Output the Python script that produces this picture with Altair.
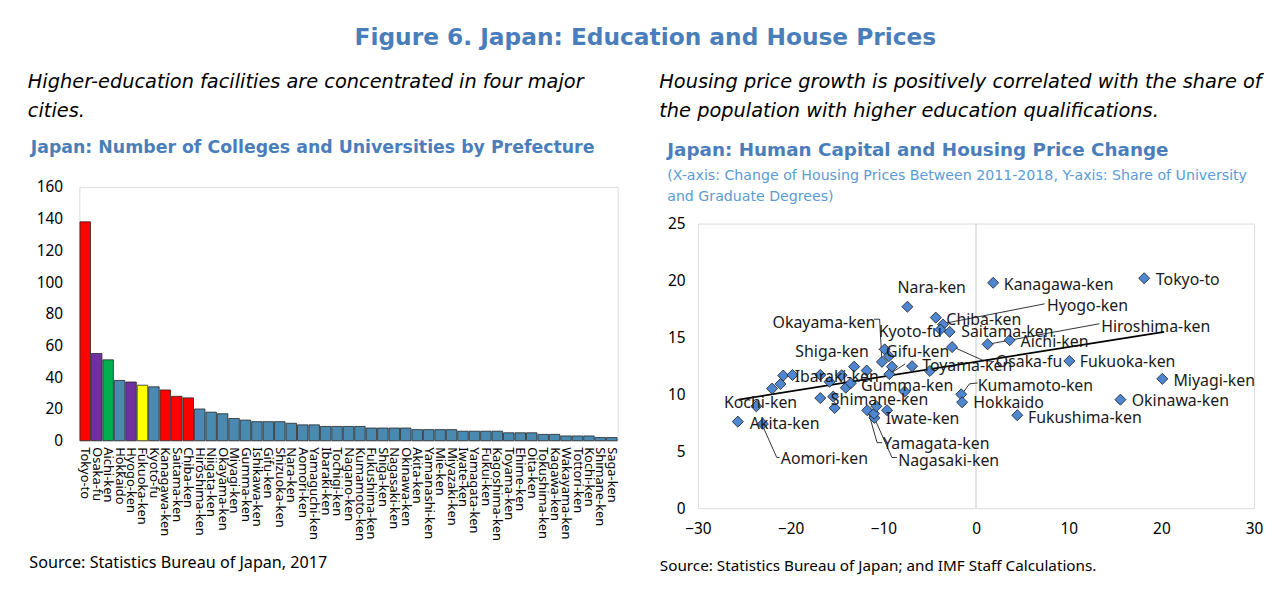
import altair as alt
import pandas as pd

# ---------------- Left panel data ----------------
prefectures = [
    "Tokyo-to", "Osaka-fu", "Aichi-ken", "Hokkaido", "Hyogo-ken", "Fukuoka-ken",
    "Kyoto-fu", "Kanagawa-ken", "Saitama-ken", "Chiba-ken", "Hiroshima-ken",
    "Niigata-ken", "Okayama-ken", "Miyagi-ken", "Gumma-ken", "Ishikawa-ken",
    "Gifu-ken", "Shizuoka-ken", "Nara-ken", "Aomori-ken", "Yamaguchi-ken",
    "Ibaraki-ken", "Tochigi-ken", "Nagano-ken", "Kumamoto-ken", "Fukushima-ken",
    "Shiga-ken", "Nagasaki-ken", "Okinawa-ken", "Akita-ken", "Yamanashi-ken",
    "Mie-ken", "Miyazaki-ken", "Iwate-ken", "Yamagata-ken", "Fukui-ken",
    "Kagoshima-ken", "Toyama-ken", "Ehime-ken", "Oita-ken", "Tokushima-ken",
    "Kagawa-ken", "Wakayama-ken", "Tottori-ken", "Kochi-ken", "Shimane-ken",
    "Saga-ken",
]
colleges = [138, 55, 51, 38, 37, 35, 34, 32, 28, 27, 20, 18, 17, 14, 13, 12, 12,
            12, 11, 10, 10, 9, 9, 9, 9, 8, 8, 8, 8, 7, 7, 7, 7, 6, 6, 6, 6, 5, 5,
            5, 4, 4, 3, 3, 3, 2, 2]
metro_area = {
    "Tokyo-to": "Tokyo", "Kanagawa-ken": "Tokyo", "Saitama-ken": "Tokyo",
    "Chiba-ken": "Tokyo", "Osaka-fu": "Osaka", "Hyogo-ken": "Osaka",
    "Aichi-ken": "Nagoya", "Fukuoka-ken": "Fukuoka",
}
group_domain = ["Tokyo", "Osaka", "Nagoya", "Fukuoka", "Other"]
group_colors = ["#ff0000", "#7030a0", "#00b050", "#ffff00", "#4a8ab0"]

# ---------------- Right panel data ----------------
pt_name = [
    "Tokyo-to", "Kanagawa-ken", "Hyogo-ken", "Chiba-ken", "Saitama-ken", "Kyoto-fu",
    "Gifu-ken", "Shiga-ken", "Okayama-ken", "Nara-ken", "Toyama-ken", "Hiroshima-ken",
    "Aichi-ken", "Osaka-fu", "Fukuoka-ken", "Miyagi-ken", "Okinawa-ken",
    "Fukushima-ken", "Kumamoto-ken", "Hokkaido", "Gumma-ken", "Ibaraki-ken",
    "Shimane-ken", "Iwate-ken", "Yamagata-ken", "Nagasaki-ken", "Kochi-ken",
    "Akita-ken", "Aomori-ken",
    "Niigata-ken", "Ishikawa-ken", "Shizuoka-ken", "Yamaguchi-ken", "Tochigi-ken",
    "Nagano-ken", "Yamanashi-ken", "Mie-ken", "Miyazaki-ken", "Fukui-ken",
    "Kagoshima-ken", "Ehime-ken", "Oita-ken", "Tokushima-ken", "Kagawa-ken",
    "Wakayama-ken", "Tottori-ken",
]
pt_x = [18.14, 1.85, -3.56, -4.34, -2.85, -3.84, -9.35, -9.85, -10.15, -7.4, -6.9,
        1.25, 3.63, -2.58, 10.07, 20.1, 15.58, 4.45, -1.6, -1.5, -14.05, -15.8,
        -16.8, -9.6, -11.74, -10.96, -23.7, -25.7, -23.0,
        -22.0, -21.1, -20.8, -19.8, -16.8, -15.4, -15.25, -14.5, -13.5, -13.15,
        -11.8, -11.0, -10.75, -9.4, -9.07, -7.7, -4.98]
pt_y = [20.2, 19.8, 16.14, 16.74, 15.49, 15.69, 11.77, 13.95, 12.85, 17.7, 12.47,
        14.4, 14.76, 14.15, 12.93, 11.36, 9.53, 8.16, 10.0, 9.3, 10.58, 11.1,
        9.67, 8.6, 8.6, 7.93, 8.95, 7.6, 7.4,
        10.5, 10.9, 11.65, 11.7, 11.7, 9.8, 8.8, 11.68, 10.98, 12.43,
        12.09, 8.3, 8.95, 13.35, 12.43, 10.25, 12.05]

# data-label anchors (left edge of text, middle), in data units
lab_name = pt_name[:29]
lab_x = [19.4, 3.0, 7.65, -3.2, -1.6, -10.5, -9.7, -19.5, -21.95, -8.47, -5.8,
         13.5, 4.8, 2.13, 11.2, 21.3, 16.8, 5.6, 0.18, -0.29, -12.4, -19.56,
         -15.66, -9.75, -10.03, -8.4, -27.2, -24.4, -21.06]
lab_y = [20.08, 19.64, 17.8, 16.5, 15.43, 15.43, 13.74, 13.74, 16.3, 19.3, 12.5,
         15.87, 14.6, 12.87, 12.87, 11.13, 9.38, 7.93, 10.7, 9.24, 10.7, 11.56,
         9.47, 7.85, 5.6, 4.15, 9.24, 7.35, 4.3]

# leader lines (label end -> point)
lead_name = ["Okayama", "Okayama", "Okayama", "Shiga", "Shiga", "Hyogo", "Hyogo",
             "Hiroshima", "Hiroshima", "Osaka", "Osaka", "Osaka",
             "Kumamoto", "Kumamoto", "Kumamoto", "Aomori", "Aomori", "Aomori",
             "Yamagata", "Yamagata", "Yamagata", "Nagasaki", "Nagasaki", "Nagasaki",
             "Gifu", "Gifu"]
lead_x = [-11.0, -10.4, -10.15, -10.5, -9.85, 7.4, -3.3, 13.3, 1.6, 1.96, 0.7, -2.3,
          0.18, -0.71, -1.45, -21.2, -21.5, -23.0, -10.14, -10.67, -11.6,
          -8.54, -9.07, -10.9, -7.65, -9.2]
lead_y = [16.6, 16.6, 12.85, 13.95, 13.95, 17.95, 16.25, 16.2, 14.45, 12.87, 13.0, 14.1,
          11.0, 10.92, 10.1, 4.45, 4.45, 7.2, 5.75, 5.75, 8.4, 4.45, 4.45, 7.8,
          12.67, 11.85]

trend_x = [-25.6, 20.3]
trend_y = [9.53, 15.49]

BLUE = "#4a7ebb"
FONT = "Noto Sans"
HEAD = "DejaVu Sans"


def spacer(width, lines, dx):
    """Empty strip that only carries the italic commentary as its title."""
    return alt.Chart(pd.DataFrame({"v": [0]}), view=alt.ViewBackground(stroke="transparent")
                     ).mark_point(opacity=0).encode(
        x=alt.value(0), y=alt.value(0)
    ).properties(width=width, height=1, title=alt.TitleParams(
        lines, anchor="start", frame="group", dx=dx, font=HEAD, fontSize=19.5,
        fontStyle="italic", fontWeight="normal", color="#000000", lineHeight=30,
        offset=2))


# ---------------- Left chart ----------------
bar_df = pd.DataFrame({"pref": prefectures, "n": colleges})
bar_df["grp"] = bar_df["pref"].map(metro_area).fillna("Other")

bars = alt.Chart(bar_df).mark_bar(stroke="#262626", strokeWidth=0.8).encode(
    x=alt.X("pref:N", sort=prefectures,
            scale=alt.Scale(paddingInner=0.08, paddingOuter=0.05),
            axis=alt.Axis(title="Source: Statistics Bureau of Japan, 2017",
                          labelAngle=90, labelFont=FONT, labelFontSize=13,
                          labelColor="#000000", ticks=False, domain=False,
                          labelPadding=6,
                          titleFont=FONT, titleFontSize=16.3, titleFontWeight="normal",
                          titleColor="#000000", titleAnchor="start", titleAlign="left",
                          titleX=-51, titleY=123, titleBaseline="middle")),
    y=alt.Y("n:Q", scale=alt.Scale(domain=[0, 160]),
            axis=alt.Axis(values=list(range(0, 161, 20)), grid=False, ticks=False,
                          domain=False, title=None, labelFont=FONT, labelFontSize=15.5,
                          labelColor="#000000", labelPadding=17, labelFlush=False)),
    color=alt.Color("grp:N", scale=alt.Scale(domain=group_domain, range=group_colors),
                    legend=None),
).properties(
    width=543, height=256,
    title=alt.TitleParams("Japan: Number of Colleges and Universities by Prefecture",
                          anchor="start", frame="group", dx=-49, font=HEAD,
                          fontSize=17.5, fontWeight="bold", color=BLUE, offset=24),
)

left_col = alt.vconcat(
    spacer(543, ["Higher-education facilities are concentrated in four major", "cities."], -52),
    bars, spacing=8)

# ---------------- Right chart ----------------
pts_df = pd.DataFrame({"name": pt_name, "x": pt_x, "y": pt_y})
lab_df = pd.DataFrame({"name": lab_name, "lx": lab_x, "ly": lab_y})
lead_df = pd.DataFrame({"leader": lead_name, "x": lead_x, "y": lead_y})
lead_df["ord"] = range(len(lead_df))
trend_df = pd.DataFrame({"x": trend_x, "y": trend_y})

xs = alt.Scale(domain=[-30, 30])
ys = alt.Scale(domain=[0, 25])

zero = alt.Chart(pd.DataFrame({"x": [0]})).mark_rule(color="#c8c8c8", strokeWidth=1).encode(
    x=alt.X("x:Q", scale=xs,
            axis=alt.Axis(values=[-30, -20, -10, 0, 10, 20, 30], grid=False, ticks=False,
                          domain=False, labelFont=FONT, labelFontSize=15.5,
                          labelColor="#000000", labelPadding=14, labelFlush=False,
                          title="Source: Statistics Bureau of Japan; and IMF Staff Calculations.",
                          titleFont=FONT, titleFontSize=15.4, titleFontWeight="normal",
                          titleColor="#000000", titleAnchor="start", titleAlign="left",
                          titleX=-39, titleY=58, titleBaseline="middle")),
)

leaders = alt.Chart(lead_df).mark_line(color="#000000", strokeWidth=0.8).encode(
    x=alt.X("x:Q", scale=xs), y=alt.Y("y:Q", scale=ys),
    detail="leader:N", order="ord:Q")

trend = alt.Chart(trend_df).mark_line(color="#000000", strokeWidth=1.8).encode(
    x=alt.X("x:Q", scale=xs), y=alt.Y("y:Q", scale=ys))

points = alt.Chart(pts_df).mark_point(shape="diamond", filled=True, size=125,
                                      fill="#4f86d0", stroke="#1a1a1a",
                                      strokeWidth=0.8, opacity=1).encode(
    x=alt.X("x:Q", scale=xs),
    y=alt.Y("y:Q", scale=ys,
            axis=alt.Axis(values=[0, 5, 10, 15, 20, 25], grid=False, ticks=False,
                          domain=False, title=None, labelFont=FONT, labelFontSize=15.5,
                          labelColor="#000000", labelPadding=13, labelFlush=False)),
)

labels = alt.Chart(lab_df).mark_text(align="left", baseline="middle", font=FONT,
                                     fontSize=16, color="#1a1a1a").encode(
    x=alt.X("lx:Q", scale=xs), y=alt.Y("ly:Q", scale=ys), text="name:N")

scatter = alt.layer(zero, leaders, trend, points, labels).properties(
    width=561, height=287,
    title=alt.TitleParams("Japan: Human Capital and Housing Price Change",
                          subtitle=["(X-axis: Change of Housing Prices Between 2011-2018, Y-axis: Share of University",
                                    "and Graduate Degrees)"],
                          anchor="start", frame="group", dx=-31, font=HEAD, fontSize=18.5,
                          fontWeight="bold", color=BLUE,
                          subtitleFont=HEAD, subtitleFontSize=14.3,
                          subtitleColor="#5b9bd5", subtitleLineHeight=21,
                          subtitlePadding=9, offset=13),
)

right_col = alt.vconcat(
    spacer(561, ["Housing price growth is positively correlated with the share of",
                 "the population with higher education qualifications."], -39),
    scatter, spacing=10)

chart = alt.hconcat(left_col, right_col, spacing=40).properties(
    title=alt.TitleParams("Figure 6. Japan: Education and House Prices",
                          anchor="middle", font=HEAD, fontSize=23.5, fontWeight="bold",
                          color=BLUE, offset=22),
    padding={"left": 19, "top": 15, "right": 0, "bottom": 2},
).configure_view(stroke="#bfbfbf", strokeWidth=1).configure(background="white")

chart.save("out.html", embed_options={"renderer": "svg", "actions": False})
